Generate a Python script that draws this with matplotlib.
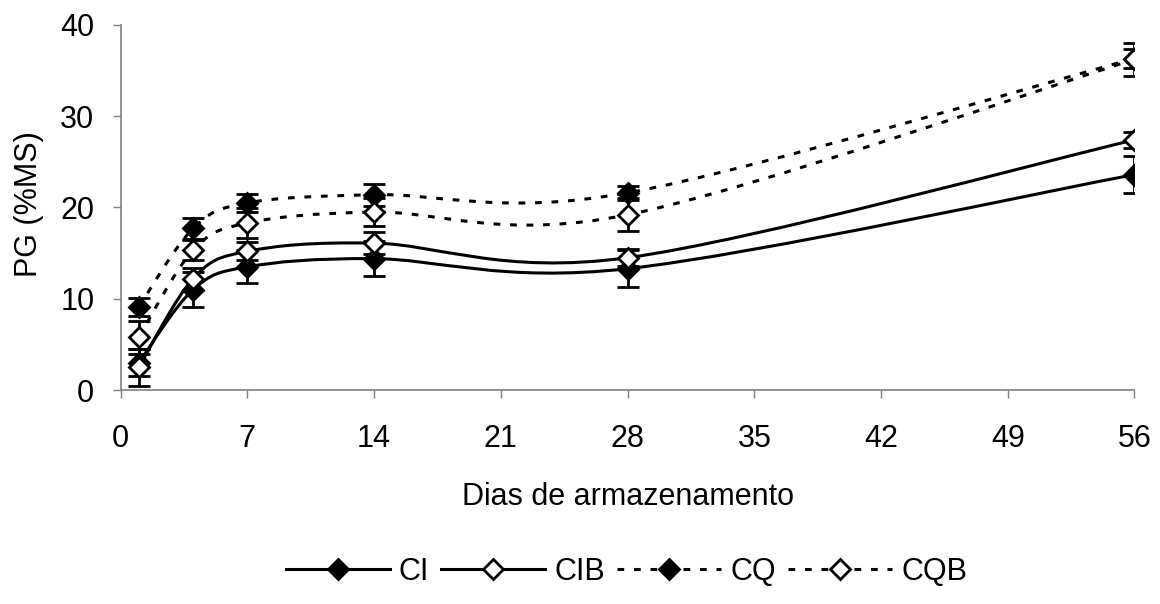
import numpy as np
import matplotlib
matplotlib.use("Agg")
import matplotlib.pyplot as plt
from matplotlib.path import Path
from matplotlib.patches import PathPatch
from matplotlib.lines import Line2D

plt.rcParams['font.family'] = ['Liberation Sans', 'DejaVu Sans']

# Storage days and PG values (%MS) per treatment
days = [1, 4, 7, 14, 28, 56]
ci = [3.0, 11.0, 13.5, 14.4, 13.3, 23.6]
ci_err = [1.5, 1.9, 1.8, 1.9, 2.0, 2.0]
cib = [2.5, 12.2, 15.2, 16.1, 14.5, 27.4]
cib_err = [2.0, 1.2, 1.0, 1.2, 0.9, 0.9]
cq = [9.1, 17.7, 20.5, 21.4, 21.6, 36.3]
cq_err = [1.0, 1.2, 1.0, 1.2, 0.8, 1.0]
cqb = [5.8, 15.3, 18.3, 19.5, 19.2, 36.2]
cqb_err = [1.8, 1.1, 1.6, 1.5, 1.8, 1.8]

labels = ['CI', 'CIB', 'CQ', 'CQB']
x_ticks = [0, 7, 14, 21, 28, 35, 42, 49, 56]
y_ticks = [0, 10, 20, 30, 40]

DASH = (0, (2.2, 3.2))
FS = 22


def smooth_path(x, y):
    """Excel-like smoothed line: cubic Bezier through the points."""
    pts = np.column_stack([x, y]).astype(float)
    verts = [pts[0]]
    codes = [Path.MOVETO]
    n = len(pts)
    for i in range(n - 1):
        p0 = pts[i - 1] if i > 0 else pts[i]
        p1 = pts[i]
        p2 = pts[i + 1]
        p3 = pts[i + 2] if i + 2 < n else pts[i + 1]
        c1 = p1 + (p2 - p0) / 6.0
        c2 = p2 - (p3 - p1) / 6.0
        verts += [c1, c2, p2]
        codes += [Path.CURVE4] * 3
    return Path(verts, codes)


fig = plt.figure(figsize=(11.6, 6.04), dpi=100)
ax = fig.add_axes([0.104, 0.354, 0.874, 0.605])

series = [
    (ci, ci_err, '-', 'black'),
    (cib, cib_err, '-', 'white'),
    (cq, cq_err, DASH, 'black'),
    (cqb, cqb_err, DASH, 'white'),
]

for vals, errs, ls, face in series:
    patch = PathPatch(smooth_path(days, vals), facecolor='none', edgecolor='black',
                      lw=2.2, linestyle=ls, zorder=2)
    ax.add_patch(patch)
for vals, errs, ls, face in series:
    ax.errorbar(days, vals, yerr=errs, fmt='none', ecolor='black', elinewidth=2,
                capsize=8, capthick=2, zorder=3)
    ax.plot(days, vals, linestyle='none', marker='D', ms=10.5, mfc=face,
            mec='black', mew=2, zorder=4)

ax.set_xlim(0, 56)
ax.set_ylim(0, 40)
ax.set_xticks(x_ticks)
ax.set_yticks(y_ticks)
ax.tick_params(labelsize=FS, color='#808080', length=6, width=1)
ax.tick_params(axis='x', pad=18)
ax.tick_params(axis='y', pad=13)
for s in ['top', 'right']:
    ax.spines[s].set_visible(False)
for s in ['left', 'bottom']:
    ax.spines[s].set_color('#808080')
    ax.spines[s].set_linewidth(1.2)

ax.set_xlabel('Dias de armazenamento', fontsize=FS, va='center')
ax.xaxis.set_label_coords(0.5, -0.293)
ax.set_ylabel('PG (%MS)', fontsize=FS, va='center')
ax.yaxis.set_label_coords(-0.09, 0.51)

handles = []
for (vals, errs, ls, face), lab in zip(series, labels):
    handles.append(Line2D([], [], color='black', lw=2.2, linestyle=ls, marker='D',
                          ms=10.5, mfc=face, mec='black', mew=2))
leg = fig.legend(handles, labels, loc='center', bbox_to_anchor=(0.54, 0.053), ncol=4,
                 frameon=False, fontsize=FS, handlelength=3.4, handletextpad=0.3,
                 columnspacing=0.4, borderpad=0, borderaxespad=0)

fig.savefig('out.png', dpi=100)
